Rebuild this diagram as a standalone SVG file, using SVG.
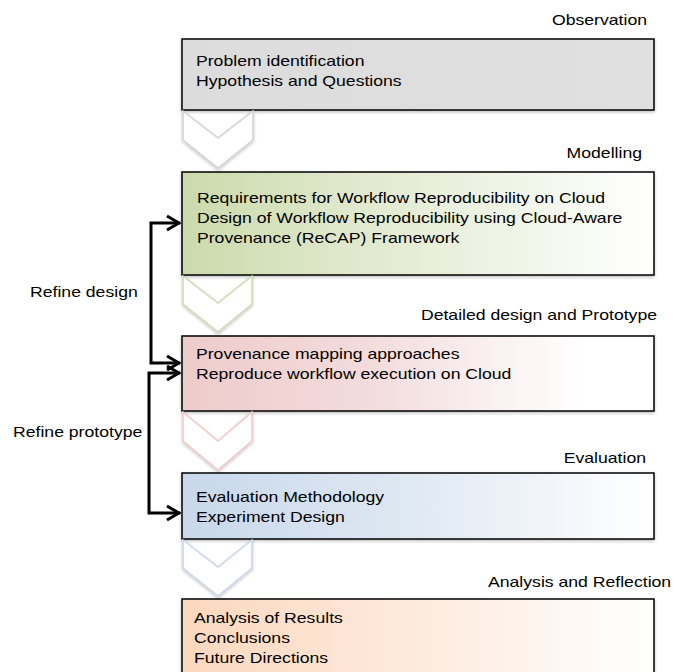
<svg xmlns="http://www.w3.org/2000/svg" width="673" height="672" viewBox="0 0 673 672">
<style>
text { font-family: "Liberation Sans", Arial, sans-serif; font-size: 15px; fill: #000; }
.box { stroke: #000; stroke-width: 1.5; }
.chev { fill: #fff; stroke-width: 1.5; stroke-linejoin: miter; }
.conn { fill: none; stroke: #000; stroke-width: 3; stroke-linejoin: miter; }
.end { text-anchor: end; }
</style>
<defs>
<linearGradient id="gGrey" x1="0" y1="0" x2="1" y2="0"><stop offset="0" stop-color="#dcdcdc"/><stop offset="1" stop-color="#e0e0e0"/></linearGradient>
<linearGradient id="gGreen" x1="0" y1="0" x2="1" y2="0"><stop offset="0" stop-color="#cbdaab"/><stop offset="0.35" stop-color="#dfe8cc"/><stop offset="1" stop-color="#ffffff"/></linearGradient>
<linearGradient id="gPink" x1="0" y1="0" x2="1" y2="0"><stop offset="0" stop-color="#eecbcb"/><stop offset="0.4" stop-color="#f3dcdc"/><stop offset="0.85" stop-color="#ffffff"/></linearGradient>
<linearGradient id="gBlue" x1="0" y1="0" x2="1" y2="0"><stop offset="0" stop-color="#c8d8ea"/><stop offset="0.45" stop-color="#dde7f2"/><stop offset="1" stop-color="#ffffff"/></linearGradient>
<linearGradient id="gOrange" x1="0" y1="0" x2="1" y2="0"><stop offset="0" stop-color="#fbd8be"/><stop offset="0.45" stop-color="#fde8da"/><stop offset="1" stop-color="#ffffff"/></linearGradient>
<filter id="shadow" x="-20%" y="-20%" width="140%" height="140%"><feDropShadow dx="0" dy="1.5" stdDeviation="1.5" flood-color="#000" flood-opacity="0.25"/></filter>
<marker id="open" viewBox="0 0 16 20" refX="15" refY="10" markerWidth="16" markerHeight="20" markerUnits="userSpaceOnUse" orient="auto-start-reverse"><path d="M2,3 L14,10 L2,17" fill="none" stroke="#000" stroke-width="3"/></marker>
</defs>

<g id="labels">
<text class="end" transform="translate(647,25) scale(1.175,1)">Observation</text>
<text class="end" transform="translate(642,158) scale(1.175,1)">Modelling</text>
<text class="end" transform="translate(657,320) scale(1.175,1)">Detailed design and Prototype</text>
<text class="end" transform="translate(646,463) scale(1.175,1)">Evaluation</text>
<text transform="translate(488,587) scale(1.175,1)">Analysis and Reflection</text>
</g>

<g id="observation">
<rect class="box" x="182" y="39" width="472" height="71" fill="url(#gGrey)" filter="url(#shadow)"/>
<text transform="translate(196,66) scale(1.175,1)">Problem identification</text>
<text transform="translate(196,86) scale(1.175,1)">Hypothesis and Questions</text>
</g>

<g id="modelling">
<rect class="box" x="182" y="172" width="472" height="103" fill="url(#gGreen)" filter="url(#shadow)"/>
<text transform="translate(197,203) scale(1.175,1)">Requirements for Workflow Reproducibility on Cloud</text>
<text transform="translate(197,223) scale(1.175,1)">Design of Workflow Reproducibility using Cloud-Aware</text>
<text transform="translate(197,243) scale(1.175,1)">Provenance (ReCAP) Framework</text>
</g>

<g id="prototype">
<rect class="box" x="182" y="336" width="472" height="75" fill="url(#gPink)" filter="url(#shadow)"/>
<text transform="translate(196,359) scale(1.175,1)">Provenance mapping approaches</text>
<text transform="translate(196,379) scale(1.175,1)">Reproduce workflow execution on Cloud</text>
</g>

<g id="evaluation">
<rect class="box" x="182" y="473" width="472" height="66" fill="url(#gBlue)" filter="url(#shadow)"/>
<text transform="translate(196,502) scale(1.175,1)">Evaluation Methodology</text>
<text transform="translate(196,522) scale(1.175,1)">Experiment Design</text>
</g>

<g id="analysis">
<rect class="box" x="182" y="599" width="472" height="90" fill="url(#gOrange)" filter="url(#shadow)"/>
<text transform="translate(194,623) scale(1.175,1)">Analysis of Results</text>
<text transform="translate(194,643) scale(1.175,1)">Conclusions</text>
<text transform="translate(194,663) scale(1.175,1)">Future Directions</text>
</g>

<g id="chevrons">
<polygon class="chev" stroke="#d2d2d2" filter="url(#shadow)" points="183,111 218,138 253,111 253,140 218,168 183,140"/>
<polygon class="chev" stroke="#cbdab0" filter="url(#shadow)" points="183,276 218,303 252,276 252,304 218,332 183,304"/>
<polygon class="chev" stroke="#f0c6c6" filter="url(#shadow)" points="183,412 218,441 252,412 252,441 218,470 183,441"/>
<polygon class="chev" stroke="#c6d6ea" filter="url(#shadow)" points="183,540 218,567 252,540 252,568 218,596 183,568"/>
</g>

<g id="connectors">
<path class="conn" d="M180,223 H151 V363 H180" marker-start="url(#open)" marker-end="url(#open)"/>
<path class="conn" d="M180,373 H149 V513 H180" marker-start="url(#open)" marker-end="url(#open)"/>
<text transform="translate(30,297) scale(1.175,1)">Refine design</text>
<text transform="translate(13,437) scale(1.175,1)">Refine prototype</text>
</g>
</svg>
